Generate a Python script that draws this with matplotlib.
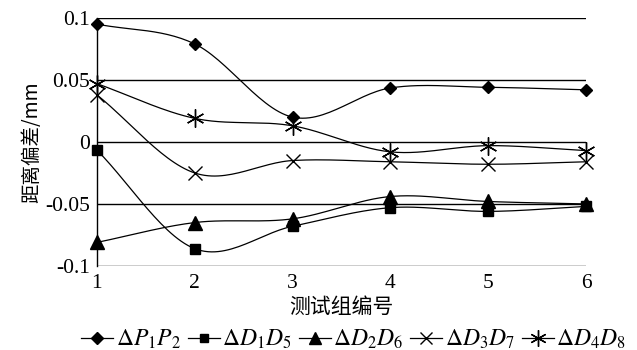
import matplotlib.pyplot as plt
import numpy as np

plt.rcParams['font.family'] = ['Liberation Serif', 'Noto Sans CJK SC']
plt.rcParams['mathtext.fontset'] = 'stix'

groups = [1, 2, 3, 4, 5, 6]
p1p2 = [0.095, 0.079, 0.020, 0.0435, 0.044, 0.042]
d1d5 = [-0.0065, -0.086, -0.068, -0.053, -0.056, -0.052]
d2d6 = [-0.081, -0.065, -0.062, -0.044, -0.048, -0.050]
d3d7 = [0.038, -0.025, -0.015, -0.016, -0.018, -0.016]
d4d8 = [0.047, 0.019, 0.013, -0.008, -0.003, -0.007]

labels = [r'$\Delta P_1P_2$', r'$\Delta D_1D_5$', r'$\Delta D_2D_6$',
          r'$\Delta D_3D_7$', r'$\Delta D_4D_8$']
markers = ['D', 's', '^', 'x', (6, 2, 0)]
msizes = [6.5, 7, 10, 10, 13]
yticks = [-0.1, -0.05, 0, 0.05, 0.1]
ytick_labels = ['-0.1', '-0.05', '0', '0.05', '0.1']


def smooth(x, y, n=30):
    # catmull-rom curve through the points, like excel smoothed lines
    x = np.asarray(x, float)
    y = np.asarray(y, float)
    px = np.concatenate([[2 * x[0] - x[1]], x, [2 * x[-1] - x[-2]]])
    py = np.concatenate([[2 * y[0] - y[1]], y, [2 * y[-1] - y[-2]]])
    xs, ys = [], []
    t = np.linspace(0, 1, n)
    for i in range(1, len(px) - 2):
        for p, out in ((px, xs), (py, ys)):
            p0, p1, p2, p3 = p[i - 1], p[i], p[i + 1], p[i + 2]
            v = 0.5 * (2 * p1 + (-p0 + p2) * t + (2 * p0 - 5 * p1 + 4 * p2 - p3) * t ** 2
                       + (-p0 + 3 * p1 - 3 * p2 + p3) * t ** 3)
            out.extend(v)
    return xs, ys


fig = plt.figure(figsize=(6.37, 3.5), dpi=100)
ax = fig.add_axes([0.152, 0.24, 0.768, 0.709])

for yv in yticks:
    ax.axhline(yv, color='black', lw=1.0, zorder=1)

series = [p1p2, d1d5, d2d6, d3d7, d4d8]
for vals, lab, m, ms in zip(series, labels, markers, msizes):
    sx, sy = smooth(groups, vals)
    ax.plot(sx, sy, color='black', lw=0.9, zorder=2, clip_on=False)
    ax.plot(groups, vals, linestyle='none', marker=m, ms=ms, color='black',
            mew=1.0, zorder=3, clip_on=False)
    ax.plot([], [], color='black', lw=0.9, marker=m, ms=ms * 0.9, mew=1.0, label=lab)

ax.set_xlim(1, 6)
ax.set_ylim(-0.1, 0.1)
ax.set_xticks(groups)
ax.set_yticks(yticks)
ax.set_yticklabels(ytick_labels)
ax.tick_params(axis='y', length=0, labelsize=15.5, pad=5)
ax.tick_params(axis='x', length=0, labelsize=15.5, pad=6)
for s in ['top', 'right', 'bottom']:
    ax.spines[s].set_visible(False)
ax.spines['left'].set_linewidth(1.0)

ax.set_xlabel('测试组编号', fontsize=15, family=['Noto Sans CJK SC'], labelpad=2)
ax.set_ylabel('距离偏差/mm', fontsize=14, family=['Noto Sans CJK SC'], labelpad=2)

fig.legend(loc='center', bbox_to_anchor=(0.555, 0.03), ncol=5, frameon=False,
           fontsize=17, handlelength=1.35, handletextpad=0.1, columnspacing=0.3,
           borderaxespad=0, borderpad=0)

fig.savefig('out.png', dpi=100)
